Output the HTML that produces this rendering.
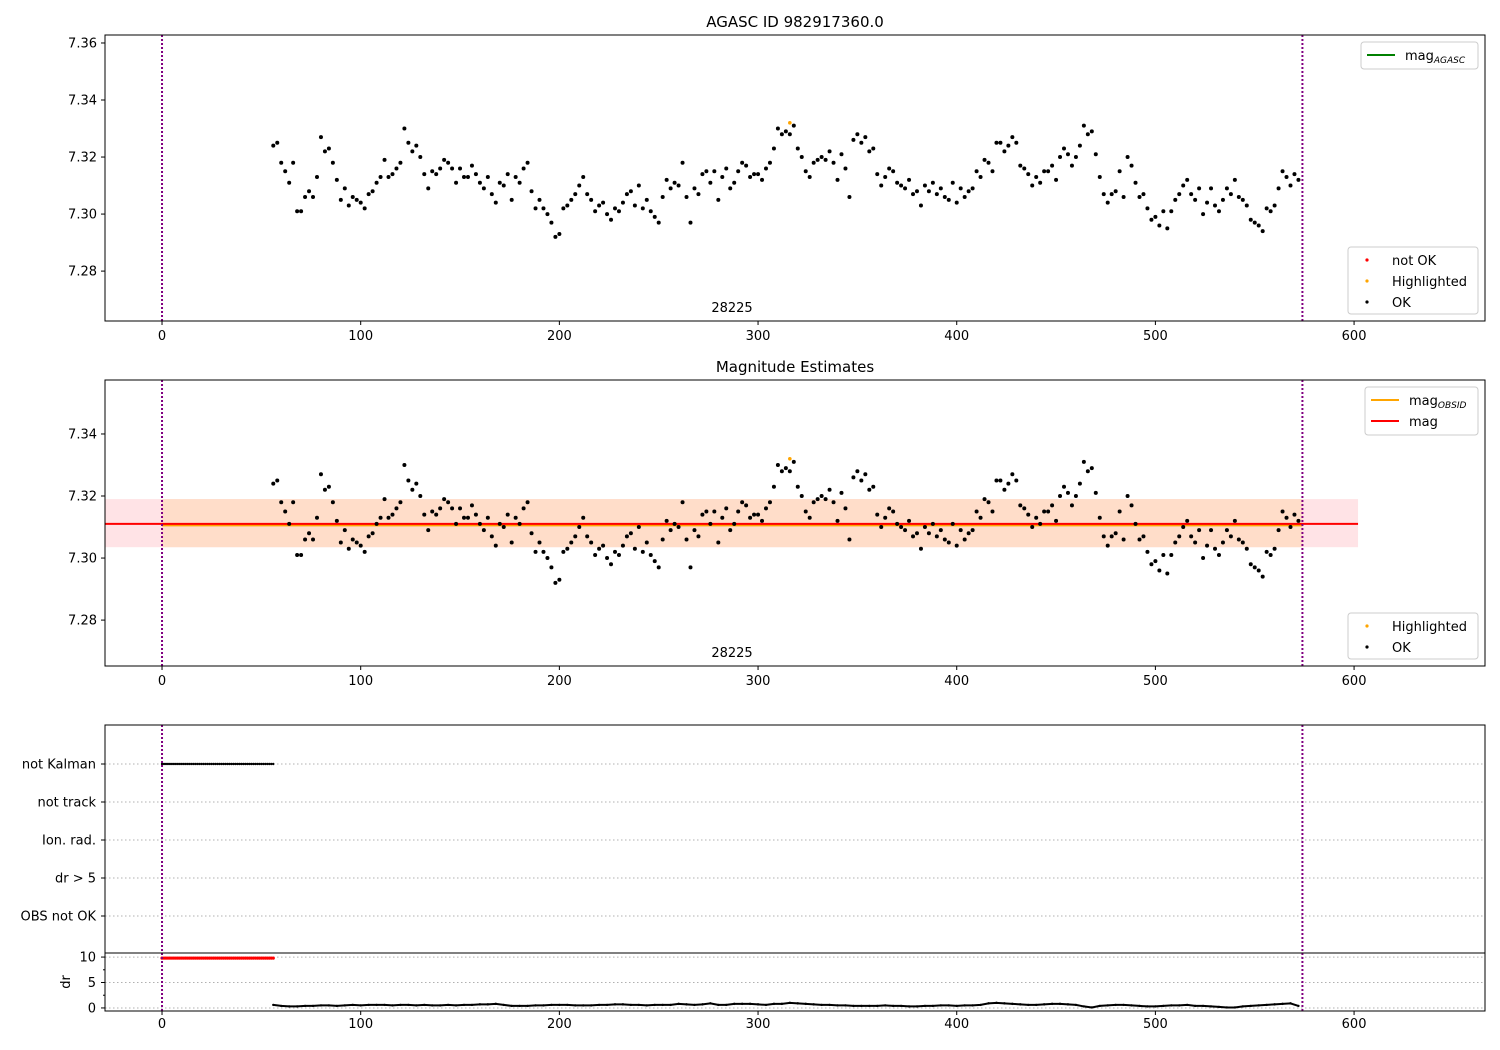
<!DOCTYPE html>
<html><head><meta charset="utf-8"><style>
body{margin:0;background:#fff}
svg{display:block;font-family:"DejaVu Sans","Liberation Sans",sans-serif}
</style></head><body>
<svg id="fig" width="1500" height="1050" xmlns="http://www.w3.org/2000/svg">
<rect width="1500" height="1050" fill="#fff"/>
<g id="g"></g>
</svg>
<script>
const startTime = 56;
const timeStep = 2;
const magValues = [7.324,7.325,7.318,7.315,7.311,7.318,7.301,7.301,7.306,7.308,7.306,7.313,7.327,7.322,7.323,7.318,7.312,7.305,7.309,7.303,7.306,7.305,7.304,7.302,7.307,7.308,7.311,7.313,7.319,7.313,7.314,7.316,7.318,7.330,7.325,7.322,7.324,7.320,7.314,7.309,7.315,7.314,7.316,7.319,7.318,7.316,7.311,7.316,7.313,7.313,7.317,7.314,7.311,7.309,7.313,7.307,7.304,7.311,7.310,7.314,7.305,7.313,7.311,7.316,7.318,7.308,7.302,7.305,7.302,7.300,7.297,7.292,7.293,7.302,7.303,7.305,7.307,7.310,7.313,7.307,7.305,7.301,7.303,7.304,7.300,7.298,7.302,7.301,7.304,7.307,7.308,7.303,7.310,7.302,7.305,7.301,7.299,7.297,7.306,7.312,7.309,7.311,7.310,7.318,7.306,7.297,7.309,7.307,7.314,7.315,7.311,7.315,7.305,7.313,7.316,7.309,7.311,7.315,7.318,7.317,7.313,7.314,7.314,7.312,7.316,7.318,7.323,7.330,7.328,7.329,7.328,7.331,7.323,7.320,7.315,7.313,7.318,7.319,7.320,7.319,7.322,7.318,7.312,7.321,7.316,7.306,7.326,7.328,7.325,7.327,7.322,7.323,7.314,7.310,7.313,7.316,7.315,7.311,7.310,7.309,7.312,7.307,7.308,7.303,7.310,7.308,7.311,7.307,7.309,7.306,7.305,7.311,7.304,7.309,7.306,7.308,7.309,7.315,7.313,7.319,7.318,7.315,7.325,7.325,7.322,7.324,7.327,7.325,7.317,7.316,7.314,7.310,7.313,7.311,7.315,7.315,7.317,7.312,7.320,7.323,7.321,7.317,7.320,7.324,7.331,7.328,7.329,7.321,7.313,7.307,7.304,7.307,7.308,7.315,7.306,7.320,7.317,7.311,7.306,7.307,7.302,7.298,7.299,7.296,7.301,7.295,7.301,7.305,7.307,7.310,7.312,7.307,7.305,7.309,7.300,7.304,7.309,7.303,7.301,7.305,7.309,7.307,7.312,7.306,7.305,7.303,7.298,7.297,7.296,7.294,7.302,7.301,7.303,7.309,7.315,7.313,7.310,7.314,7.312];
const highlightTimes = [316];
const highlightMags = [7.332];
const magMean = 7.311;
const magLow = 7.3035;
const magHigh = 7.319;
const drStart = 56;
const drStep = 4;
const drValues = [0.6,0.4,0.3,0.3,0.4,0.4,0.5,0.5,0.4,0.5,0.6,0.5,0.6,0.6,0.6,0.5,0.6,0.6,0.5,0.6,0.5,0.5,0.6,0.5,0.6,0.6,0.7,0.7,0.8,0.6,0.4,0.4,0.4,0.5,0.5,0.6,0.6,0.6,0.5,0.5,0.5,0.6,0.6,0.7,0.7,0.6,0.6,0.5,0.6,0.6,0.6,0.8,0.7,0.6,0.7,0.9,0.6,0.6,0.8,0.8,0.8,0.7,0.6,0.8,0.8,1.0,0.9,0.8,0.7,0.6,0.6,0.5,0.5,0.4,0.4,0.4,0.4,0.5,0.4,0.4,0.3,0.3,0.4,0.4,0.5,0.5,0.4,0.5,0.5,0.6,0.9,1.0,0.9,0.8,0.7,0.6,0.6,0.7,0.8,0.8,0.7,0.6,0.3,0.1,0.4,0.5,0.6,0.6,0.5,0.4,0.3,0.3,0.4,0.5,0.5,0.6,0.4,0.4,0.3,0.2,0.1,0.1,0.3,0.4,0.5,0.6,0.7,0.8,0.9,0.4];
const preStart = 0;
const preEnd = 56;
const preDr = 9.8;
const xTicks = [0,100,200,300,400,500,600];
const p1Ticks = [7.28,7.30,7.32,7.34,7.36];
const p2Ticks = [7.28,7.30,7.32,7.34];
const flagLabels = ["not Kalman","not track","Ion. rad.","dr > 5","OBS not OK"];
const drTicks = [0,5,10];
const obsEnd = 574;

const NS="http://www.w3.org/2000/svg";
const G=document.getElementById('g');
function el(tag,attrs,parent){const e=document.createElementNS(NS,tag);for(const k in attrs)e.setAttribute(k,attrs[k]);(parent||G).appendChild(e);return e;}
function txt(s,attrs,parent){const e=el('text',attrs,parent);e.textContent=s;return e;}
const L=105,R=1485;
const xmin=-28.7,xmax=665.9;
const X=v=>L+(v-xmin)/(xmax-xmin)*(R-L);
function yScale(top,bot,lo,hi){return v=>bot-(v-lo)/(hi-lo)*(bot-top);}
const times=magValues.map((_,i)=>startTime+i*timeStep);

function panelMag(top,bot,lo,hi,ticks,name,withBand){
  const Y=yScale(top,bot,lo,hi);
  const g=el('g',{});
  
  
  if(withBand){
    const b1=el('rect',{x:X(xmin),y:Y(magHigh),width:X(602)-X(xmin),height:Y(magLow)-Y(magHigh),fill:'#ffe3e6'},g);
    
    const b2=el('rect',{x:X(0),y:Y(magHigh),width:X(obsEnd)-X(0),height:Y(magLow)-Y(magHigh),fill:'#ffddc9'},g);
    
    const l1=el('line',{x1:X(0),x2:X(obsEnd),y1:Y(magMean)+1.5,y2:Y(magMean)+1.5,stroke:'orange','stroke-width':2},g);
    
    const l2=el('line',{x1:X(xmin),x2:X(602),y1:Y(magMean),y2:Y(magMean),stroke:'red','stroke-width':2},g);
    
  }
  magValues.forEach((v,i)=>{const c=el('circle',{cx:X(times[i]),cy:Y(v),r:2,fill:'#000'},g);
    });
  highlightMags.forEach((v,i)=>{const c=el('circle',{cx:X(highlightTimes[i]),cy:Y(v),r:1.8,fill:'orange'},g);
    });
  [0,obsEnd].forEach(t=>{const l=el('line',{x1:X(t),x2:X(t),y1:top,y2:bot,stroke:'purple','stroke-width':2,'stroke-dasharray':'2,2'},g);
    });
  const fr=el('rect',{x:L,y:top,width:R-L,height:bot-top,fill:'none',stroke:'#000','stroke-width':1},g);
  
  ticks.forEach(t=>{el('line',{x1:L-4,x2:L,y1:Y(t),y2:Y(t),stroke:'#000'},g);
    const tt=txt(t.toFixed(2),{x:L-8,y:Y(t)+4.5,'text-anchor':'end','font-size':13},g);
    });
  xTicks.forEach(t=>{el('line',{x1:X(t),x2:X(t),y1:bot,y2:bot+4,stroke:'#000'},g);
    const tt=txt(t,{x:X(t),y:bot+19,'text-anchor':'middle','font-size':13},g);
    });
  const ob=txt('28225',{x:732,y:bot-9,'text-anchor':'middle','font-size':13},g);
  
  return Y;
}
panelMag(35,321,7.2625,7.3628,p1Ticks,'agasc-panel',false);
panelMag(380,666,7.2652,7.3574,p2Ticks,'estimates-panel',true);

const t1=txt('AGASC ID 982917360.0',{x:795,y:27,'text-anchor':'middle','font-size':15});

const t2=txt('Magnitude Estimates',{x:795,y:372,'text-anchor':'middle','font-size':15});


function legend(x,y,w,h,items,name){
  const g=el('g',{});
  
  
  el('rect',{x:x,y:y,width:w,height:h,rx:3,fill:'#fff',stroke:'#ccc','fill-opacity':0.85},g);
  items.forEach((it,i)=>{const cy=y+13+i*21;
    if(it.type==='line') el('line',{x1:x+6,x2:x+34,y1:cy,y2:cy,stroke:it.c,'stroke-width':2},g);
    else el('circle',{cx:x+19,cy:cy,r:1.6,fill:it.c},g);
    const t=el('text',{x:x+44,y:cy+5,'font-size':13},g);
    t.textContent=it.t;
    if(it.sub){const s=el('tspan',{'font-size':9,'font-style':'italic',dy:3},t);s.textContent=it.sub;}
    
  });
}
legend(1361,42,117,27,[{type:'line',c:'green',t:'mag',sub:'AGASC'}],'legend-agasc');
legend(1348,247,130,67,[{type:'dot',c:'red',t:'not OK'},{type:'dot',c:'orange',t:'Highlighted'},{type:'dot',c:'#000',t:'OK'}],'legend-status-1');
legend(1365,387,113,48,[{type:'line',c:'orange',t:'mag',sub:'OBSID'},{type:'line',c:'red',t:'mag'}],'legend-mag');
legend(1348,613,130,46,[{type:'dot',c:'orange',t:'Highlighted'},{type:'dot',c:'#000',t:'OK'}],'legend-status-2');

const fTop=725,fBot=953;
const fg=el('g',{});


const flagY=i=>764+i*38;
flagLabels.forEach((s,i)=>{
  el('line',{x1:L,x2:R,y1:flagY(i),y2:flagY(i),stroke:'#b0b0b0','stroke-dasharray':'1.5,2.5'},fg);
  el('line',{x1:L-4,x2:L,y1:flagY(i),y2:flagY(i),stroke:'#000'},fg);
  const t=txt(s,{x:L-9,y:flagY(i)+4.5,'text-anchor':'end','font-size':13},fg);
  
});
for(let t=preStart;t<=preEnd;t++){const c=el('circle',{cx:X(t),cy:flagY(0),r:1.2,fill:'#000'},fg);
  }

const dTop=953,dBot=1011;
const DY=yScale(dTop,dBot,-0.6,10.8);
const dg=el('g',{});


drTicks.forEach(t=>{el('line',{x1:L,x2:R,y1:DY(t),y2:DY(t),stroke:'#b0b0b0','stroke-dasharray':'1.5,2.5'},dg);
  el('line',{x1:L-4,x2:L,y1:DY(t),y2:DY(t),stroke:'#000'},dg);
  const tt=txt(t,{x:L-9,y:DY(t)+4.5,'text-anchor':'end','font-size':13},dg);
  });
[2.5,7.5].forEach(t=>el('line',{x1:L-2,x2:L,y1:DY(t),y2:DY(t),stroke:'#000'},dg));
const dl=txt('dr',{x:0,y:0,'text-anchor':'middle','font-size':13,transform:`translate(70,${(dTop+dBot)/2}) rotate(-90)`},dg);

for(let t=preStart;t<=preEnd;t++){const c=el('circle',{cx:X(t),cy:DY(preDr),r:1.6,fill:'red'},dg);
  }
const drPts=drValues.map((v,i)=>[X(drStart+i*drStep),DY(v)]);
const pl=el('polyline',{points:drPts.map(p=>p.join(',')).join(' '),fill:'none',stroke:'#000','stroke-width':2},dg);

drPts.forEach(p=>{const c=el('circle',{cx:p[0],cy:p[1],r:1.2,fill:'#000'},dg);
  });
xTicks.forEach(t=>{el('line',{x1:X(t),x2:X(t),y1:dBot,y2:dBot+4,stroke:'#000'},dg);
  const tt=txt(t,{x:X(t),y:dBot+17,'text-anchor':'middle','font-size':13},dg);
  });
[0,obsEnd].forEach(t=>{const l=el('line',{x1:X(t),x2:X(t),y1:fTop,y2:dBot,stroke:'purple','stroke-width':2,'stroke-dasharray':'2,2'});
  });
el('rect',{x:L,y:fTop,width:R-L,height:fBot-fTop,fill:'none',stroke:'#000'});
el('rect',{x:L,y:dTop,width:R-L,height:dBot-dTop,fill:'none',stroke:'#000'});
</script>
</body></html>
